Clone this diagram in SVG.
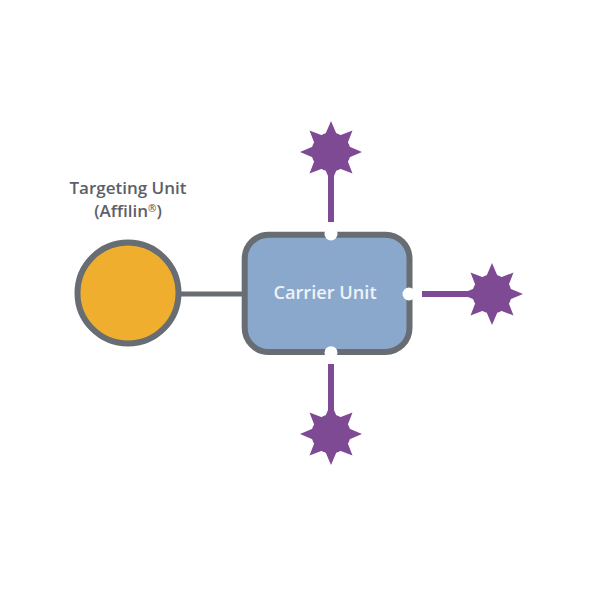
<svg xmlns="http://www.w3.org/2000/svg" xmlns:xlink="http://www.w3.org/1999/xlink" width="600" height="600" viewBox="0 0 600 600">
<style>
.gray{stroke:#686c73;stroke-width:6}
.link{stroke:#7f4a94;stroke-width:6;fill:none}
.star{fill:#7f4a94}
.dot{fill:#fff}
text{font-family:"Open Sans","Liberation Sans",sans-serif;font-weight:600;text-anchor:middle}
.lbl{font-size:17px;fill:#5c6066}
.car{font-size:18.2px;fill:#eef3f8}
.sup{font-size:10px}
</style>
<defs>
<g id="s">
<polygon points="0,-31 6.5,-15.7 21.5,-21.5 15.7,-6.5 31,0 15.7,6.5 21.5,21.5 6.5,15.7 0,31 -6.5,15.7 -21.5,21.5 -15.7,6.5 -31,0 -15.7,-6.5 -21.5,-21.5 -6.5,-15.7"/>
<circle r="19.5"/>
</g>
</defs>
<rect width="600" height="600" fill="#fff"/>
<g id="connectors">
<line class="gray" x1="180" y1="294" x2="243" y2="294" style="stroke-width:5"/>
<line class="link" x1="331" y1="170" x2="331" y2="222"/>
<line class="link" x1="422" y1="294" x2="472" y2="294"/>
<line class="link" x1="331" y1="364" x2="331" y2="416"/>
</g>
<g id="targeting-unit">
<circle class="gray" cx="128" cy="293" r="50.5" fill="#f0ae2e"/>
<text class="lbl" x="128" y="194">Targeting Unit</text>
<text class="lbl" x="128" y="217">(Affilin<tspan class="sup" dy="-5">®</tspan><tspan dy="5">)</tspan></text>
</g>
<g id="carrier-unit">
<rect class="gray" x="244.7" y="234.7" width="164.8" height="117.3" rx="24" fill="#8aa8cb"/>
<circle class="dot" cx="331" cy="234" r="6.5"/>
<circle class="dot" cx="409" cy="294" r="6.5"/>
<circle class="dot" cx="331" cy="352.7" r="6.5"/>
<text class="car" x="325" y="299">Carrier Unit</text>
</g>
<g id="payload-top"><use href="#s" class="star" x="331" y="152"/></g>
<g id="payload-right"><use href="#s" class="star" x="492" y="294"/></g>
<g id="payload-bottom"><use href="#s" class="star" x="331" y="434"/></g>
</svg>
